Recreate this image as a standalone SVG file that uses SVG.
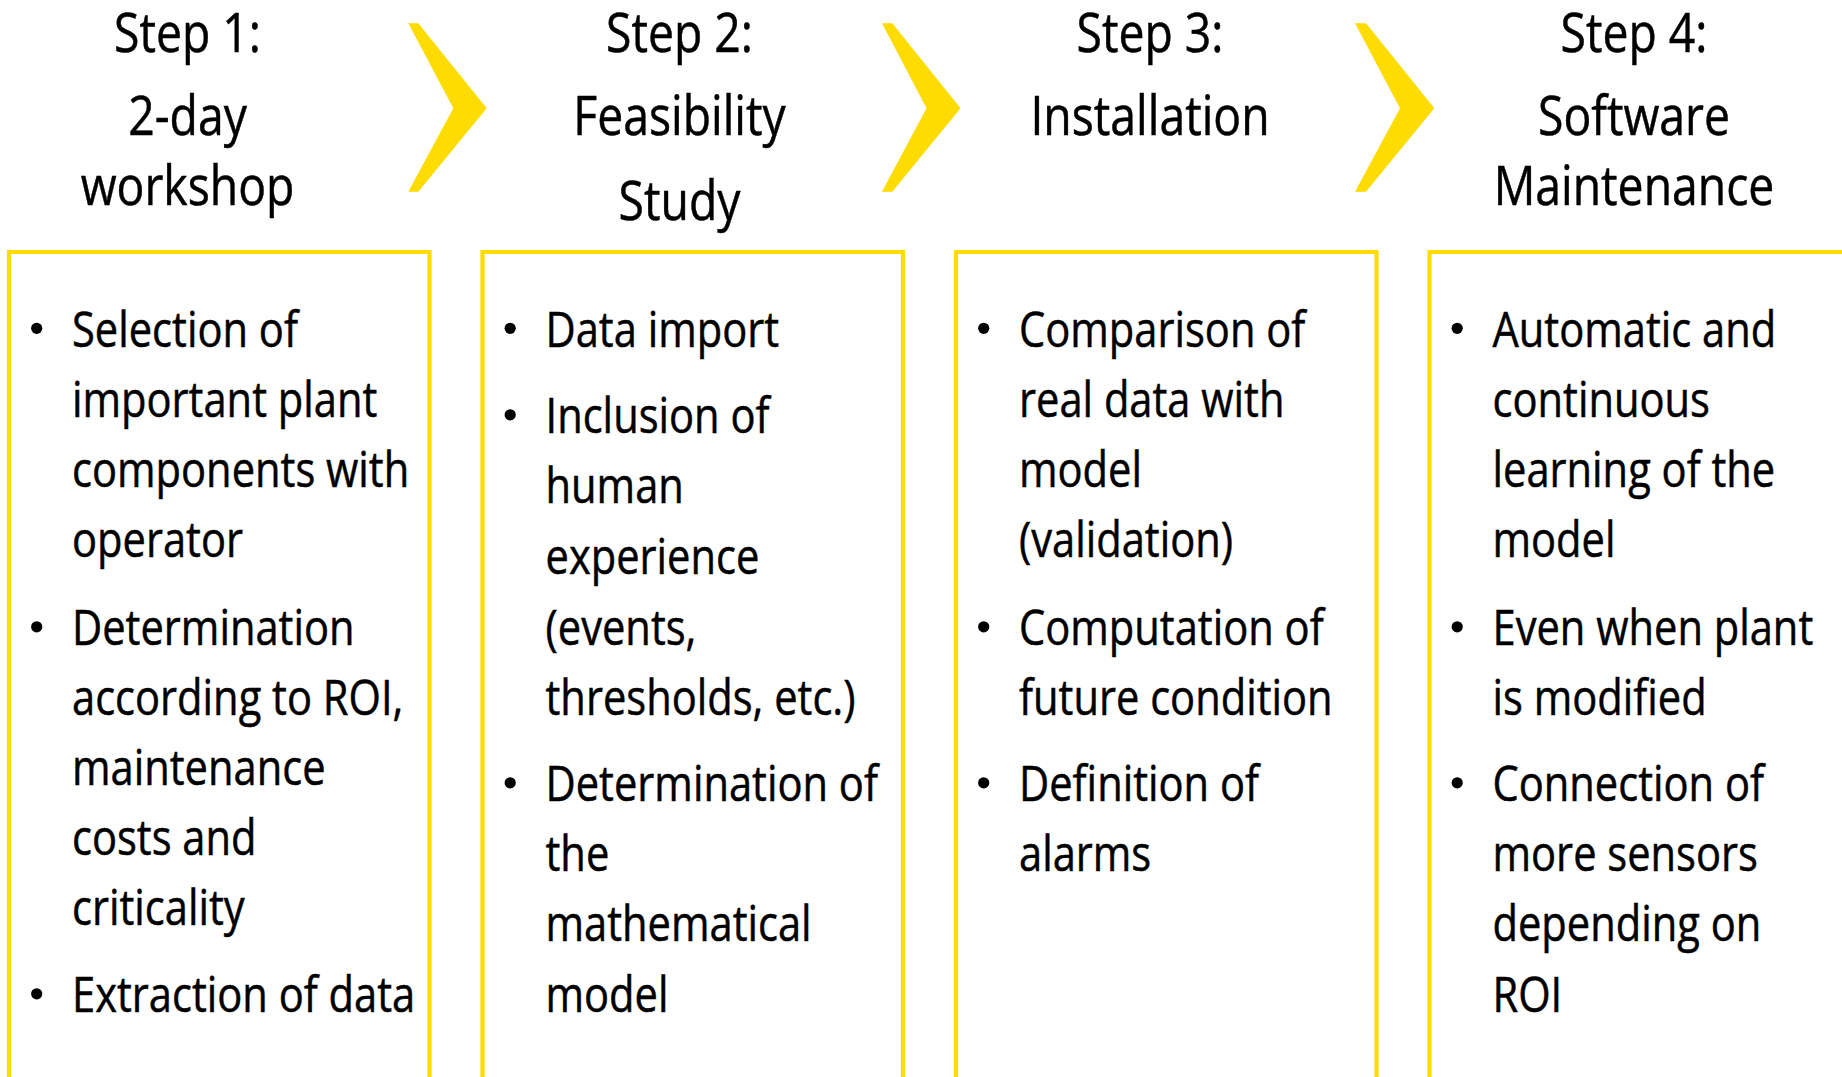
<svg xmlns="http://www.w3.org/2000/svg" width="1842" height="1077" viewBox="0 0 1842 1077">
<defs>
<style>
.t{font-family:"Open Sans","Noto Sans","DejaVu Sans",sans-serif;font-size:49px;fill:#000000;stroke:#000000;stroke-width:0.5px;}
.h{text-anchor:middle;font-size:54.5px;}
.box{fill:none;stroke:#FFDC00;stroke-width:4.2;}
.chev{fill:#FFDC00;stroke:none;}
.b{fill:#000000;}
</style>
</defs>
<rect x="0" y="0" width="1842" height="1077" fill="#FFFFFF"/>
<g id="connectors">
<polygon class="chev" points="408.3,23.3 418.3,23.3 486.7,108.3 418.3,191.7 408.3,191.7 453.3,108.3"/>
<polygon class="chev" points="882,23.3 892.3,23.3 960.5,108.3 892.3,191.7 882,191.7 926.5,108.3"/>
<polygon class="chev" points="1355,23.3 1366,23.3 1434.3,108.3 1366,191.7 1355,191.7 1400,108.3"/>
</g>
<g id="step1">
<text class="t h" transform="translate(187.5,52) scale(0.85,1)">Step 1:</text>
<text class="t h" transform="translate(187.5,135) scale(0.85,1)">2-day</text>
<text class="t h" transform="translate(187.5,205) scale(0.85,1)">workshop</text>
<path class="box" d="M9,1085 V252 H429.5 V1085"/>
<circle class="b" cx="36.7" cy="328.3" r="5.6"/>
<circle class="b" cx="36.7" cy="626.8" r="5.6"/>
<circle class="b" cx="36.7" cy="993.8" r="5.6"/>
<text class="t" transform="translate(72,346.5) scale(0.85,1)">Selection of</text>
<text class="t" transform="translate(72,416.5) scale(0.85,1)">important plant</text>
<text class="t" transform="translate(72,486.5) scale(0.85,1)">components with</text>
<text class="t" transform="translate(72,556.5) scale(0.85,1)">operator</text>
<text class="t" transform="translate(72,645) scale(0.85,1)">Determination</text>
<text class="t" transform="translate(72,715) scale(0.85,1)">according to ROI,</text>
<text class="t" transform="translate(72,785) scale(0.85,1)">maintenance</text>
<text class="t" transform="translate(72,855) scale(0.85,1)">costs and</text>
<text class="t" transform="translate(72,925) scale(0.85,1)">criticality</text>
<text class="t" transform="translate(72,1012) scale(0.85,1)">Extraction of data</text>
</g>
<g id="step2">
<text class="t h" transform="translate(679.5,52) scale(0.85,1)">Step 2:</text>
<text class="t h" transform="translate(679.5,135) scale(0.85,1)">Feasibility</text>
<text class="t h" transform="translate(679.5,219.5) scale(0.85,1)">Study</text>
<path class="box" d="M482.5,1085 V252 H903 V1085"/>
<circle class="b" cx="510.2" cy="328.3" r="5.6"/>
<circle class="b" cx="510.2" cy="414.8" r="5.6"/>
<circle class="b" cx="510.2" cy="782.8" r="5.6"/>
<text class="t" transform="translate(545.5,346.5) scale(0.85,1)">Data import</text>
<text class="t" transform="translate(545.5,433) scale(0.85,1)">Inclusion of</text>
<text class="t" transform="translate(545.5,503) scale(0.85,1)">human</text>
<text class="t" transform="translate(545.5,574) scale(0.85,1)">experience</text>
<text class="t" transform="translate(545.5,645) scale(0.85,1)">(events,</text>
<text class="t" transform="translate(545.5,715) scale(0.85,1)">thresholds, etc.)</text>
<text class="t" transform="translate(545.5,801) scale(0.85,1)">Determination of</text>
<text class="t" transform="translate(545.5,871) scale(0.85,1)">the</text>
<text class="t" transform="translate(545.5,941) scale(0.85,1)">mathematical</text>
<text class="t" transform="translate(545.5,1012) scale(0.85,1)">model</text>
</g>
<g id="step3">
<text class="t h" transform="translate(1150,52) scale(0.85,1)">Step 3:</text>
<text class="t h" transform="translate(1150,135) scale(0.85,1)">Installation</text>
<path class="box" d="M956,1085 V252 H1376.5 V1085"/>
<circle class="b" cx="983.7" cy="328.3" r="5.6"/>
<circle class="b" cx="983.7" cy="626.8" r="5.6"/>
<circle class="b" cx="983.7" cy="782.8" r="5.6"/>
<text class="t" transform="translate(1019,346.5) scale(0.85,1)">Comparison of</text>
<text class="t" transform="translate(1019,416.5) scale(0.85,1)">real data with</text>
<text class="t" transform="translate(1019,486.5) scale(0.85,1)">model</text>
<text class="t" transform="translate(1019,556.5) scale(0.85,1)">(validation)</text>
<text class="t" transform="translate(1019,645) scale(0.85,1)">Computation of</text>
<text class="t" transform="translate(1019,715) scale(0.85,1)">future condition</text>
<text class="t" transform="translate(1019,801) scale(0.85,1)">Definition of</text>
<text class="t" transform="translate(1019,871) scale(0.85,1)">alarms</text>
</g>
<g id="step4">
<text class="t h" transform="translate(1634,52) scale(0.85,1)">Step 4:</text>
<text class="t h" transform="translate(1634,135) scale(0.85,1)">Software</text>
<text class="t h" transform="translate(1634,205) scale(0.85,1)">Maintenance</text>
<path class="box" d="M1429.5,1085 V252 H1850 V1085"/>
<circle class="b" cx="1457.2" cy="328.3" r="5.6"/>
<circle class="b" cx="1457.2" cy="626.8" r="5.6"/>
<circle class="b" cx="1457.2" cy="782.8" r="5.6"/>
<text class="t" transform="translate(1492.5,346.5) scale(0.85,1)">Automatic and</text>
<text class="t" transform="translate(1492.5,416.5) scale(0.85,1)">continuous</text>
<text class="t" transform="translate(1492.5,486.5) scale(0.85,1)">learning of the</text>
<text class="t" transform="translate(1492.5,556.5) scale(0.85,1)">model</text>
<text class="t" transform="translate(1492.5,645) scale(0.85,1)">Even when plant</text>
<text class="t" transform="translate(1492.5,715) scale(0.85,1)">is modified</text>
<text class="t" transform="translate(1492.5,801) scale(0.85,1)">Connection of</text>
<text class="t" transform="translate(1492.5,871) scale(0.85,1)">more sensors</text>
<text class="t" transform="translate(1492.5,941) scale(0.85,1)">depending on</text>
<text class="t" transform="translate(1492.5,1012) scale(0.85,1)">ROI</text>
</g>
</svg>
